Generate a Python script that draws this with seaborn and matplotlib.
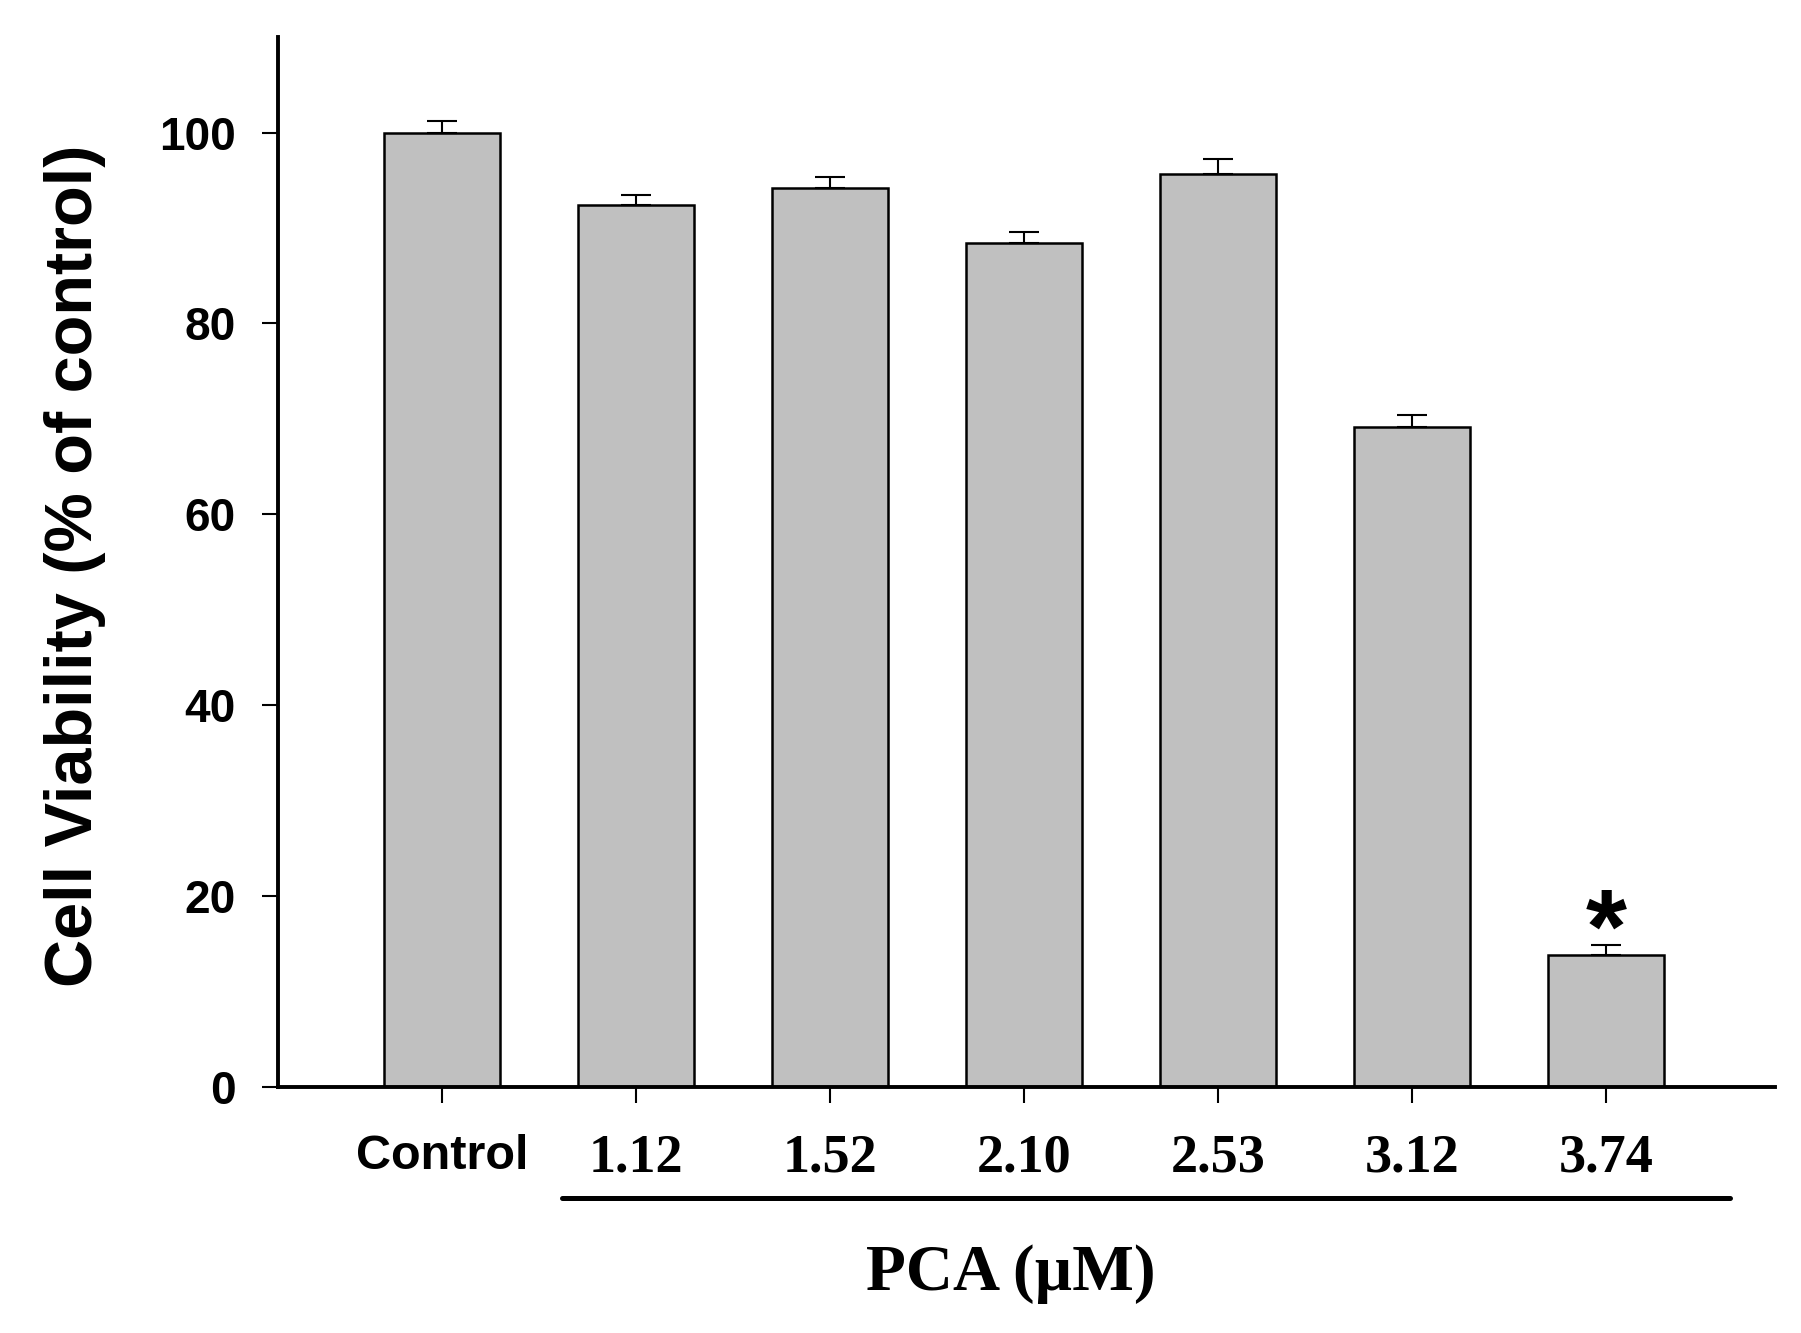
import matplotlib
matplotlib.use("Agg")
import matplotlib.pyplot as plt
import matplotlib.transforms as mtransforms
import seaborn as sns

# values
groups = ["Control", "1.12", "1.52", "2.10", "2.53", "3.12", "3.74"]
viability = [100.0, 92.4, 94.2, 88.4, 95.7, 69.2, 13.8]
sem = [1.2, 1.1, 1.1, 1.2, 1.5, 1.2, 1.1]
significant = [False, False, False, False, False, False, True]

sns.set_style("ticks")
plt.rcParams["font.family"] = ["Liberation Sans", "DejaVu Sans"]
for key in ["text.color", "axes.labelcolor", "xtick.color", "ytick.color", "axes.edgecolor"]:
    plt.rcParams[key] = "black"

fig = plt.figure(figsize=(18.01, 13.33), dpi=100)
ax = fig.add_axes([0.1544, 0.1845, 0.9856 - 0.1544, 0.9722 - 0.1845])

sns.barplot(
    x=groups,
    y=viability,
    color="#c0c0c0",
    saturation=1,
    edgecolor="black",
    linewidth=1.8,
    width=0.6,
    errorbar=None,
    ax=ax,
)

# upper error bars only
for patch, val, err, sig in zip(ax.patches, viability, sem, significant):
    xc = patch.get_x() + patch.get_width() / 2
    ax.errorbar(
        xc, val, yerr=[[0], [err]], fmt="none", ecolor="black",
        elinewidth=1.5, capsize=11, capthick=1.5, zorder=3,
    )
    if sig:
        ax.annotate(
            "*", xy=(xc, val + err), xytext=(0, 7), textcoords="offset points",
            ha="center", va="center", fontsize=76, fontweight="bold",
        )

ax.set_xlim(-0.845, 6.87)
ax.set_ylim(0, 110)
ax.set_yticks([0, 20, 40, 60, 80, 100])
ax.set_xlabel("")
ax.set_ylabel("")

sns.despine(ax=ax)
for side in ["left", "bottom"]:
    ax.spines[side].set_linewidth(2.8)

ax.tick_params(axis="y", direction="out", length=11.5, width=1.5, pad=19, labelsize=33)
ax.tick_params(axis="x", direction="out", length=11.5, width=1.5, pad=22)
for lab in ax.get_yticklabels():
    lab.set_fontweight("bold")

for i, lab in enumerate(ax.get_xticklabels()):
    if i == 0:
        lab.set_fontfamily(["Liberation Sans", "DejaVu Sans"])
        lab.set_fontsize(35)
    else:
        lab.set_fontfamily(["Liberation Serif", "DejaVu Serif"])
        lab.set_fontsize(39)
    lab.set_fontweight("bold")

# bracket line under the PCA concentrations
trans = mtransforms.blended_transform_factory(ax.transData, fig.transFigure)
ax.plot([0.62, 6.64], [0.1013, 0.1013], color="black", lw=3.6,
        transform=trans, clip_on=False, solid_capstyle="round")

fig.text(0.5614, 0.0323, "PCA (µM)", ha="center", va="baseline",
         fontsize=47, fontweight="bold",
         family=["Liberation Serif", "DejaVu Serif"])

fig.text(75 / 1801, 1 - 566 / 1333, "Cell Viability (% of control)",
         rotation=90, ha="center", va="center", fontsize=48, fontweight="bold")

fig.savefig("out.png", dpi=100)
